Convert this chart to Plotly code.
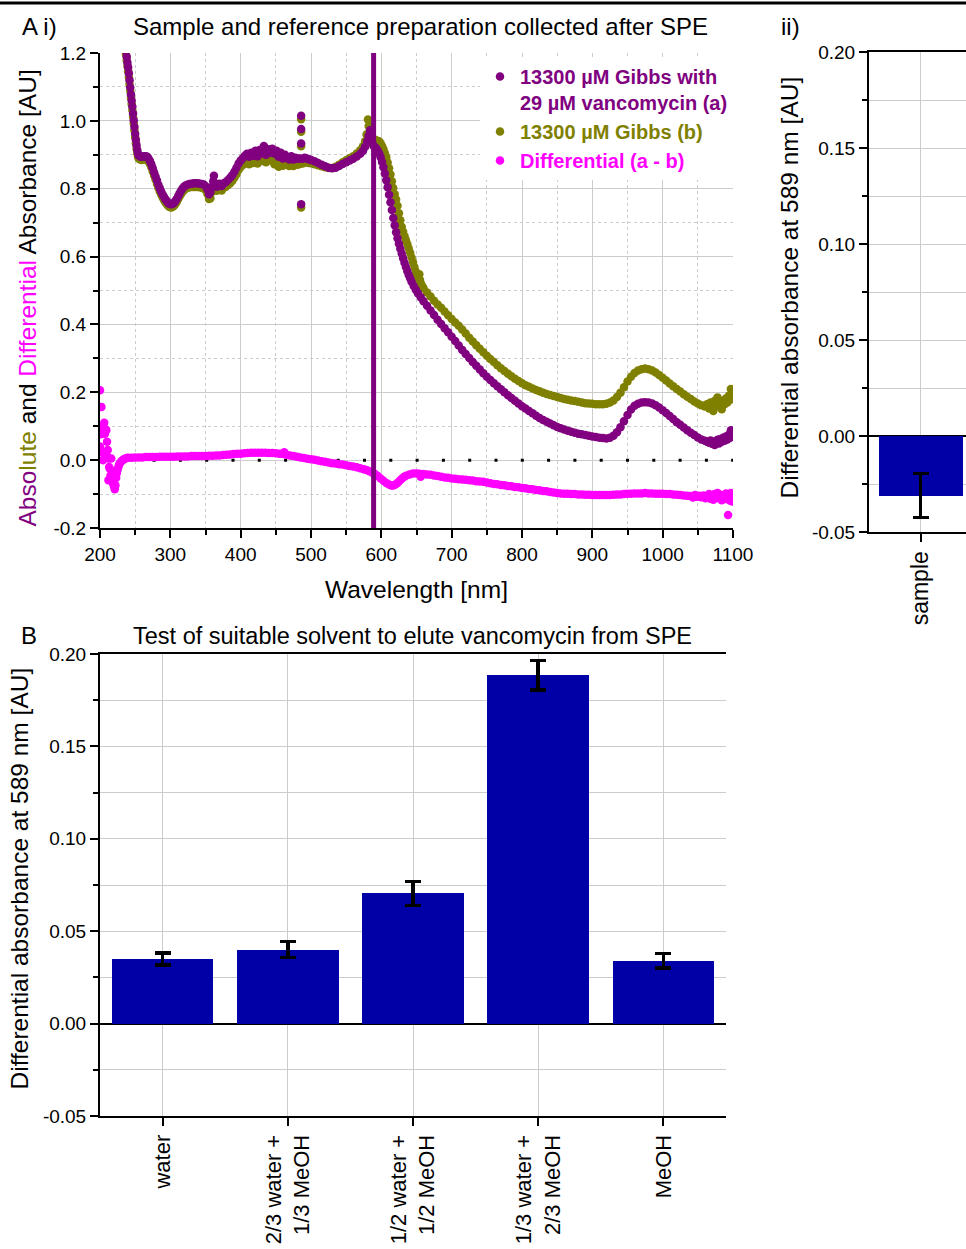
import plotly.graph_objects as go

# ---------------- data ----------------
# (a) 13300 uM Gibbs with 29 uM vancomycin
wl_a = [226, 230, 233, 235, 236, 237, 238, 239, 240, 241, 242, 243, 244, 245, 246, 247, 248, 249, 250,
        251, 252, 253, 254, 255, 257, 259, 261, 263, 265, 267, 269, 271, 273, 275, 277, 279, 281, 283,
        285, 287, 289, 291, 293, 295, 297, 299, 301, 303, 305, 307, 309, 311, 313, 315, 317, 319, 321,
        324, 327, 330, 333, 336, 339, 342, 345, 348, 351, 353, 355, 357, 359, 361, 362, 364, 366, 368,
        370, 373, 376, 379, 382, 385, 388, 391, 394, 397, 400, 403, 406, 409, 412, 415, 418, 421, 424,
        427, 430, 433, 436, 439, 442, 445, 448, 451, 454, 457, 460, 463, 466, 469, 472, 475, 478, 481,
        484, 486, 486, 486, 486, 488, 491, 494, 497, 500, 505, 510, 515, 520, 525, 530, 535, 540, 545,
        550, 555, 560, 565, 570, 574, 577, 580, 582, 584, 585, 587, 589, 591, 593, 595, 597, 599, 601,
        603, 605, 607, 609, 611, 613, 615, 617, 619, 621, 623, 625, 627, 629, 631, 633, 635, 637, 639,
        641, 643, 646, 649, 652, 656, 660, 665, 670, 675, 680, 685, 690, 695, 700, 705, 710, 715, 720,
        725, 730, 735, 740, 745, 750, 755, 760, 765, 770, 775, 780, 785, 790, 795, 800, 805, 810, 815,
        820, 825, 830, 835, 840, 845, 850, 855, 860, 865, 870, 875, 880, 885, 890, 895, 900, 905, 910,
        915, 920, 925, 930, 935, 940, 945, 950, 955, 960, 965, 970, 975, 980, 985, 990, 995, 1000, 1005,
        1010, 1015, 1020, 1025, 1030, 1035, 1040, 1045, 1050, 1055, 1060, 1063, 1066, 1068, 1070, 1072,
        1074, 1076, 1078, 1080, 1082, 1084, 1086, 1088, 1090, 1092, 1094, 1096, 1097, 1098, 1099, 1100]
abs_a = [1.55, 1.42, 1.32, 1.26, 1.23, 1.205, 1.188, 1.172, 1.158, 1.14, 1.12, 1.098, 1.078, 1.06, 1.042,
         1.022, 1.002, 0.982, 0.962, 0.944, 0.928, 0.914, 0.904, 0.898, 0.895, 0.894, 0.895, 0.896, 0.896,
         0.894, 0.889, 0.882, 0.872, 0.86, 0.848, 0.836, 0.824, 0.812, 0.801, 0.792, 0.783, 0.776, 0.769,
         0.763, 0.758, 0.755, 0.754, 0.755, 0.758, 0.763, 0.77, 0.778, 0.786, 0.793, 0.80, 0.805, 0.809,
         0.812, 0.814, 0.815, 0.816, 0.816, 0.816, 0.815, 0.814, 0.812, 0.806, 0.797, 0.784, 0.79, 0.805,
         0.822, 0.838, 0.812, 0.806, 0.81, 0.815, 0.808, 0.816, 0.82, 0.826, 0.832, 0.84, 0.85, 0.862,
         0.874, 0.883, 0.89, 0.897, 0.903, 0.894, 0.906, 0.897, 0.912, 0.896, 0.914, 0.904, 0.926, 0.90,
         0.916, 0.906, 0.918, 0.904, 0.912, 0.894, 0.906, 0.889, 0.90, 0.892, 0.886, 0.896, 0.886, 0.891,
         0.888, 0.889, 1.015, 0.976, 0.933, 0.754, 0.888, 0.891, 0.889, 0.887, 0.885, 0.881, 0.876, 0.871,
         0.866, 0.862, 0.86, 0.862, 0.867, 0.873, 0.878, 0.883, 0.888, 0.895, 0.903, 0.912, 0.924, 0.94,
         0.956, 0.972, 0.952, 0.935, 0.926, 0.922, 0.918, 0.912, 0.904, 0.893, 0.879, 0.863, 0.845, 0.825,
         0.804, 0.782, 0.76, 0.737, 0.714, 0.692, 0.672, 0.654, 0.638, 0.623, 0.609, 0.595, 0.582, 0.569,
         0.557, 0.546, 0.536, 0.526, 0.513, 0.502, 0.492, 0.48, 0.468, 0.455, 0.441, 0.428, 0.414, 0.401,
         0.389, 0.377, 0.364, 0.351, 0.338, 0.325, 0.313, 0.301, 0.289, 0.278, 0.267, 0.256, 0.246, 0.236,
         0.227, 0.218, 0.209, 0.20, 0.191, 0.183, 0.175, 0.167, 0.159, 0.152, 0.145, 0.138, 0.131, 0.124,
         0.118, 0.113, 0.108, 0.103, 0.098, 0.094, 0.09, 0.087, 0.084, 0.081, 0.078, 0.076, 0.074, 0.072,
         0.07, 0.068, 0.066, 0.065, 0.064, 0.066, 0.072, 0.082, 0.097, 0.115, 0.133, 0.149, 0.16, 0.166,
         0.17, 0.171, 0.17, 0.167, 0.162, 0.155, 0.147, 0.139, 0.13, 0.121, 0.112, 0.104, 0.096, 0.088,
         0.081, 0.074, 0.067, 0.061, 0.057, 0.054, 0.051, 0.058, 0.048, 0.055, 0.045, 0.052, 0.06, 0.049,
         0.062, 0.054, 0.066, 0.057, 0.07, 0.061, 0.075, 0.066, 0.088, 0.072, 0.08, 0.086]

# (b) 13300 uM Gibbs
wl_b = [226, 230, 233, 235, 236, 237, 238, 239, 240, 241, 242, 243, 244, 245, 246, 247, 248, 249, 250,
        251, 252, 253, 254, 255, 257, 259, 261, 263, 265, 267, 269, 271, 273, 275, 277, 279, 281, 283,
        285, 287, 289, 291, 293, 295, 297, 299, 301, 303, 305, 307, 309, 311, 313, 315, 317, 319, 321,
        324, 327, 330, 333, 336, 339, 342, 345, 348, 351, 353, 355, 357, 359, 361, 362, 364, 366, 368,
        370, 373, 376, 379, 382, 385, 388, 391, 394, 397, 400, 403, 406, 409, 412, 415, 418, 421, 424,
        427, 430, 433, 436, 439, 442, 445, 448, 451, 454, 457, 460, 463, 466, 469, 472, 475, 478, 481,
        484, 486, 486, 486, 486, 488, 491, 494, 497, 500, 505, 510, 515, 520, 525, 530, 535, 540, 545,
        550, 555, 560, 565, 570, 574, 577, 579, 581, 582, 583, 585, 587, 589, 591, 593, 595, 597, 599,
        601, 603, 605, 607, 609, 611, 613, 615, 617, 619, 621, 623, 625, 627, 629, 631, 633, 635, 637,
        639, 641, 643, 645, 647, 649, 651, 653, 654, 655, 656, 658, 660, 665, 670, 675, 680, 685, 690,
        695, 700, 705, 710, 715, 720, 725, 730, 735, 740, 745, 750, 755, 760, 765, 770, 775, 780, 785,
        790, 795, 800, 805, 810, 815, 820, 825, 830, 835, 840, 845, 850, 855, 860, 865, 870, 875, 880,
        885, 890, 895, 900, 905, 910, 915, 920, 925, 930, 935, 940, 945, 950, 955, 960, 965, 970, 975,
        980, 985, 990, 995, 1000, 1005, 1010, 1015, 1020, 1025, 1030, 1035, 1040, 1045, 1050, 1055, 1060,
        1063, 1066, 1068, 1070, 1072, 1074, 1076, 1078, 1080, 1082, 1084, 1086, 1088, 1090, 1092, 1094,
        1096, 1097, 1098, 1099, 1100]
abs_b = [1.54, 1.41, 1.31, 1.25, 1.22, 1.195, 1.178, 1.162, 1.147, 1.129, 1.109, 1.088, 1.068, 1.05, 1.032,
         1.012, 0.992, 0.972, 0.952, 0.934, 0.918, 0.905, 0.895, 0.889, 0.886, 0.885, 0.886, 0.887, 0.887,
         0.885, 0.88, 0.873, 0.863, 0.851, 0.839, 0.827, 0.815, 0.803, 0.792, 0.783, 0.774, 0.767, 0.76,
         0.754, 0.749, 0.746, 0.745, 0.746, 0.749, 0.754, 0.761, 0.769, 0.777, 0.784, 0.79, 0.795, 0.799,
         0.802, 0.804, 0.805, 0.805, 0.805, 0.805, 0.804, 0.803, 0.80, 0.794, 0.784, 0.77, 0.772, 0.79,
         0.806, 0.82, 0.798, 0.794, 0.797, 0.802, 0.795, 0.803, 0.806, 0.811, 0.816, 0.823, 0.832, 0.843,
         0.855, 0.864, 0.87, 0.876, 0.881, 0.872, 0.884, 0.876, 0.889, 0.874, 0.89, 0.882, 0.90, 0.878,
         0.893, 0.884, 0.895, 0.872, 0.889, 0.865, 0.884, 0.868, 0.878, 0.872, 0.867, 0.877, 0.867, 0.873,
         0.871, 0.873, 1.005, 0.968, 0.925, 0.745, 0.874, 0.878, 0.877, 0.876, 0.875, 0.872, 0.869, 0.866,
         0.863, 0.861, 0.861, 0.865, 0.871, 0.878, 0.884, 0.89, 0.896, 0.904, 0.913, 0.925, 0.94, 0.96,
         1.004, 0.985, 0.968, 0.955, 0.95, 0.946, 0.944, 0.942, 0.941, 0.939, 0.934, 0.926, 0.916, 0.905,
         0.893, 0.877, 0.86, 0.842, 0.822, 0.802, 0.784, 0.768, 0.75, 0.728, 0.707, 0.688, 0.673, 0.66,
         0.648, 0.636, 0.624, 0.611, 0.597, 0.583, 0.569, 0.556, 0.545, 0.534, 0.548, 0.531, 0.522, 0.514,
         0.507, 0.494, 0.482, 0.47, 0.459, 0.449, 0.438, 0.427, 0.416, 0.406, 0.396, 0.385, 0.373, 0.361,
         0.35, 0.339, 0.328, 0.318, 0.308, 0.298, 0.289, 0.28, 0.271, 0.263, 0.255, 0.247, 0.24, 0.233,
         0.227, 0.221, 0.216, 0.211, 0.207, 0.203, 0.199, 0.195, 0.192, 0.189, 0.186, 0.183, 0.18, 0.178,
         0.176, 0.174, 0.172, 0.17, 0.168, 0.167, 0.166, 0.165, 0.165, 0.165, 0.166, 0.17, 0.176, 0.186,
         0.199, 0.215, 0.232, 0.246, 0.257, 0.264, 0.268, 0.27, 0.268, 0.264, 0.258, 0.251, 0.243, 0.235,
         0.226, 0.218, 0.21, 0.202, 0.194, 0.187, 0.18, 0.173, 0.167, 0.162, 0.158, 0.165, 0.152, 0.17,
         0.158, 0.145, 0.175, 0.16, 0.185, 0.158, 0.17, 0.15, 0.175, 0.165, 0.182, 0.17, 0.19, 0.178, 0.21,
         0.195, 0.185, 0.20]

# differential (a - b)
wl_d = [200, 200, 200, 201, 201, 202, 202, 203, 204, 205, 205, 206, 207, 208, 209, 210, 210, 211, 212,
        212, 213, 214, 215, 216, 216, 217, 218, 219, 220, 221, 222, 223, 224, 225, 226, 227, 228, 230,
        232, 234, 236, 238, 240, 245, 250, 255, 260, 265, 270, 275, 280, 285, 290, 295, 300, 305, 310,
        315, 320, 325, 330, 335, 340, 345, 350, 355, 360, 365, 370, 375, 380, 385, 390, 395, 400, 405,
        410, 415, 420, 425, 430, 435, 440, 445, 450, 455, 460, 462, 465, 470, 475, 480, 485, 490, 495,
        500, 505, 510, 515, 520, 525, 530, 535, 540, 545, 550, 555, 560, 565, 570, 575, 579, 583, 587,
        591, 595, 599, 603, 607, 611, 614, 617, 620, 623, 626, 629, 632, 635, 640, 645, 650, 654, 656,
        658, 660, 665, 670, 675, 680, 685, 690, 695, 700, 705, 710, 715, 720, 725, 730, 735, 740, 745,
        750, 755, 760, 765, 770, 775, 780, 785, 790, 795, 800, 805, 810, 815, 820, 825, 830, 835, 840,
        845, 850, 855, 860, 865, 870, 875, 880, 885, 890, 895, 900, 905, 910, 915, 920, 925, 930, 935,
        940, 945, 950, 955, 960, 965, 970, 975, 980, 985, 990, 995, 1000, 1005, 1010, 1015, 1020, 1025,
        1030, 1035, 1040, 1043, 1046, 1049, 1052, 1055, 1058, 1061, 1064, 1066, 1068, 1070, 1072, 1074,
        1076, 1078, 1080, 1082, 1084, 1086, 1088, 1090, 1092, 1093, 1094, 1096, 1097, 1098, 1099, 1100]
diff_d = [0.206, 0.082, 0.04, 0.10, 0.076, 0.157, 0.025, 0.088, 0.0, 0.085, 0.02, 0.11, 0.078, 0.09, 0.088,
          0.054, 0.012, 0.03, -0.059, 0.005, -0.02, -0.025, -0.045, -0.059, 0.005, -0.04, -0.066, -0.07,
          -0.078, -0.086, -0.074, -0.052, -0.038, -0.028, -0.02, -0.014, -0.01, -0.004, 0.0, 0.003, 0.005,
          0.006, 0.007, 0.007, 0.008, 0.008, 0.008, 0.009, 0.009, 0.009, 0.009, 0.01, 0.01, 0.01, 0.01,
          0.01, 0.011, 0.011, 0.011, 0.011, 0.012, 0.012, 0.012, 0.012, 0.012, 0.013, 0.013, 0.014, 0.014,
          0.015, 0.016, 0.017, 0.018, 0.019, 0.019, 0.02, 0.021, 0.022, 0.022, 0.022, 0.022, 0.022, 0.021,
          0.021, 0.02, 0.019, 0.018, 0.023, 0.016, 0.014, 0.012, 0.01, 0.008, 0.006, 0.004, 0.003, 0.001,
          -0.001, -0.003, -0.005, -0.007, -0.009, -0.01, -0.012, -0.013, -0.015, -0.017, -0.019, -0.021,
          -0.024, -0.027, -0.029, -0.033, -0.037, -0.041, -0.047, -0.054, -0.061, -0.067, -0.072, -0.075,
          -0.075, -0.072, -0.067, -0.061, -0.055, -0.05, -0.046, -0.042, -0.039, -0.039, -0.04, -0.049,
          -0.042, -0.041, -0.042, -0.043, -0.045, -0.047, -0.049, -0.051, -0.052, -0.054, -0.055, -0.056,
          -0.057, -0.058, -0.059, -0.06, -0.062, -0.063, -0.064, -0.066, -0.068, -0.07, -0.071, -0.073,
          -0.074, -0.076, -0.077, -0.079, -0.08, -0.082, -0.083, -0.085, -0.086, -0.088, -0.089, -0.091,
          -0.092, -0.094, -0.095, -0.097, -0.098, -0.099, -0.099, -0.1, -0.1, -0.101, -0.101, -0.102,
          -0.102, -0.103, -0.103, -0.103, -0.103, -0.103, -0.103, -0.102, -0.101, -0.101, -0.1, -0.099,
          -0.099, -0.098, -0.098, -0.098, -0.097, -0.098, -0.098, -0.099, -0.099, -0.099, -0.1, -0.1,
          -0.101, -0.102, -0.103, -0.104, -0.105, -0.106, -0.11, -0.103, -0.108, -0.105, -0.109, -0.104,
          -0.112, -0.106, -0.1, -0.114, -0.104, -0.117, -0.1, -0.112, -0.097, -0.11, -0.102, -0.118,
          -0.105, -0.113, -0.098, -0.115, -0.162, -0.104, -0.12, -0.097, -0.11, -0.122, -0.1]

# wavelength used for the single-wavelength read-out
marker_wl = 589

# ii) differential absorbance at 589 nm, sample
sample_cat = ["sample"]
sample_val = [-0.031]
sample_err = [0.0115]

# B) solvent test
solvents = ["water", "2/3 water +<br>1/3 MeOH", "1/2 water +<br>1/2 MeOH",
            "1/3 water +<br>2/3 MeOH", "MeOH"]
solvent_val = [0.035, 0.040, 0.0705, 0.1885, 0.034]
solvent_err = [0.0032, 0.0043, 0.0065, 0.0081, 0.0040]

# tick labels (plain hyphen for negatives)
spec_ticks = [-0.2, 0.0, 0.2, 0.4, 0.6, 0.8, 1.0, 1.2]
spec_ticktext = ["-0.2", "0.0", "0.2", "0.4", "0.6", "0.8", "1.0", "1.2"]
spec_minor = [-0.1, 0.1, 0.3, 0.5, 0.7, 0.9, 1.1]
bar_ticks = [-0.05, 0.0, 0.05, 0.10, 0.15, 0.20]
bar_ticktext = ["-0.05", "0.00", "0.05", "0.10", "0.15", "0.20"]
bar_minor = [-0.025, 0.025, 0.075, 0.125, 0.175]

# ---------------- styling ----------------
FONT = "Arial, 'Liberation Sans', sans-serif"
PURPLE = "#800080"
OLIVE = "#808000"
MAGENTA = "#FF00FF"
BLUE = "#0000A6"
GRID = "#cccccc"
W, H = 966, 1249
MS = 8.5


def px_x(p):
    return p / W


def px_y(p):
    return (H - p) / H


fig = go.Figure()

# spectra (olive drawn first so the purple series sits on top)
fig.add_trace(go.Scatter(
    x=wl_b, y=abs_b, mode="markers", xaxis="x", yaxis="y",
    marker=dict(color=OLIVE, size=MS, line=dict(width=0)),
    name="<span style='color:#808000'><b>13300 µM Gibbs (b)</b></span>", legendrank=2))
fig.add_trace(go.Scatter(
    x=wl_a, y=abs_a, mode="markers", xaxis="x", yaxis="y",
    marker=dict(color=PURPLE, size=MS, line=dict(width=0)),
    name="<b>13300 µM Gibbs with</b><br><b>29 µM vancomycin (a)</b>", legendrank=1))
fig.add_trace(go.Scatter(
    x=wl_d, y=diff_d, mode="markers", xaxis="x", yaxis="y",
    marker=dict(color=MAGENTA, size=MS, line=dict(width=0)),
    name="<span style='color:#FF00FF'><b>Differential (a - b)</b></span>", legendrank=3))

# ii) sample bar
fig.add_trace(go.Bar(
    x=[0], y=sample_val, width=0.81, xaxis="x3", yaxis="y3", showlegend=False,
    marker=dict(color=BLUE, line=dict(width=0)),
    error_y=dict(type="data", array=sample_err, color="black", thickness=3, width=8)))

# B) solvent bars
fig.add_trace(go.Bar(
    x=list(range(len(solvents))), y=solvent_val, width=0.81, xaxis="x5", yaxis="y5",
    showlegend=False, marker=dict(color=BLUE, line=dict(width=0)),
    error_y=dict(type="data", array=solvent_err, color="black", thickness=3.5, width=8)))

tick_font = dict(family=FONT, size=19, color="black")
bar_tick_font = dict(family=FONT, size=19, color="black")
title_font = dict(family=FONT, size=24.5, color="black")

common_line = dict(showline=True, linecolor="black", linewidth=2, zeroline=False)
tick_style = dict(ticklen=8, tickwidth=2, tickcolor="black")
minor_out = dict(ticks="outside", ticklen=5, tickwidth=2, tickcolor="black")
minor_in = dict(ticks="inside", ticklen=5, tickwidth=2, tickcolor="black")

fig.update_layout(
    width=W, height=H, margin=dict(l=0, r=0, t=0, b=0),
    paper_bgcolor="white", plot_bgcolor="white",
    font=dict(family=FONT, color="black"),
    bargap=0,
    # ---- A i) spectra ----
    xaxis=dict(domain=[px_x(100), px_x(733)], anchor="y", range=[200, 1100],
               tick0=200, dtick=100, ticks="outside", **tick_style,
               tickfont=tick_font, showgrid=True, gridcolor=GRID, gridwidth=1,
               minor=dict(dtick=50, showgrid=True, gridcolor=GRID, griddash="dot", **minor_out),
               title=dict(text="Wavelength [nm]", font=title_font, standoff=17),
               automargin=False, **common_line),
    xaxis2=dict(overlaying="x", anchor="y", side="top", range=[200, 1100],
                tick0=200, dtick=100, ticks="inside", **tick_style,
                showticklabels=False, showgrid=False,
                minor=dict(dtick=50, **minor_in),
                automargin=False, **common_line),
    yaxis=dict(domain=[px_y(528), px_y(53)], anchor="x", range=[-0.2, 1.2],
               tickmode="array", tickvals=spec_ticks, ticktext=spec_ticktext,
               ticks="outside", **tick_style, tickfont=tick_font,
               showgrid=True, gridcolor=GRID, gridwidth=1,
               minor=dict(tickmode="array", tickvals=spec_minor, showgrid=True, gridcolor=GRID,
                          griddash="dot", **minor_out),
               automargin=False, **common_line),
    yaxis2=dict(overlaying="y", anchor="x", side="right", range=[-0.2, 1.2],
                tickmode="array", tickvals=spec_ticks, ticks="inside", **tick_style,
                showticklabels=False, showgrid=False,
                minor=dict(tickmode="array", tickvals=spec_minor, **minor_in),
                automargin=False, **common_line),
    # ---- ii) sample ----
    xaxis3=dict(domain=[px_x(869), 1.0], anchor="y3", range=[-0.5, 0.433],
                tickvals=[0], ticktext=sample_cat, tickangle=-90, ticks="outside", **tick_style,
                tickfont=dict(family=FONT, size=23, color="black"),
                showgrid=True, gridcolor=GRID, mirror=True, automargin=False, **common_line),
    yaxis3=dict(domain=[px_y(532), px_y(52)], anchor="x3", range=[-0.05, 0.2],
                tickmode="array", tickvals=bar_ticks, ticktext=bar_ticktext,
                ticks="outside", **tick_style, tickfont=bar_tick_font,
                showgrid=True, gridcolor=GRID,
                minor=dict(tickmode="array", tickvals=bar_minor, showgrid=True, gridcolor=GRID,
                           **minor_out),
                showline=True, linecolor="black", linewidth=2,
                zeroline=True, zerolinecolor="black", zerolinewidth=2, automargin=False),
    yaxis4=dict(overlaying="y3", anchor="x3", side="right", range=[-0.05, 0.2],
                tickmode="array", tickvals=bar_ticks, ticks="inside", ticklen=5, tickwidth=2,
                tickcolor="black", showticklabels=False, showgrid=False, showline=False,
                zeroline=False, automargin=False),
    # ---- B) solvents ----
    xaxis5=dict(domain=[px_x(100), px_x(726)], anchor="y5", range=[-0.5, 4.5],
                tickvals=list(range(len(solvents))), ticktext=solvents, tickangle=-90,
                ticks="outside", **tick_style,
                tickfont=dict(family=FONT, size=22, color="black"),
                showgrid=True, gridcolor=GRID, mirror=True, automargin=False, **common_line),
    yaxis5=dict(domain=[px_y(1116), px_y(654)], anchor="x5", range=[-0.05, 0.2],
                tickmode="array", tickvals=bar_ticks, ticktext=bar_ticktext,
                ticks="outside", **tick_style, tickfont=bar_tick_font,
                showgrid=True, gridcolor=GRID,
                minor=dict(tickmode="array", tickvals=bar_minor, showgrid=True, gridcolor=GRID,
                           **minor_out),
                showline=True, linecolor="black", linewidth=2,
                zeroline=True, zerolinecolor="black", zerolinewidth=2, automargin=False),
    yaxis6=dict(overlaying="y5", anchor="x5", side="right", range=[-0.05, 0.2],
                tickmode="array", tickvals=bar_ticks, ticks="inside", **tick_style,
                showticklabels=False, showgrid=False,
                minor=dict(tickmode="array", tickvals=bar_minor, **minor_in),
                automargin=False, **common_line),
    legend=dict(x=px_x(480), y=px_y(57), xanchor="left", yanchor="top",
                bgcolor="white", borderwidth=0, valign="top", traceorder="normal",
                font=dict(family=FONT, size=20, color=PURPLE), tracegroupgap=0),
)

# panel titles, panel letters and y-axis titles
y_title_a = ("<span style='color:#800080'>Abso</span><span style='color:#808000'>lute</span> and "
             "<span style='color:#FF00FF'>Differential</span> Absorbance [AU]")
y_title_bar = "Differential absorbance at 589 nm [AU]"
annots = [
    dict(x=px_x(420), y=px_y(27), text="Sample and reference preparation collected after SPE",
         xanchor="center", size=24),
    dict(x=px_x(20), y=px_y(27), text="A i)", xanchor="left", size=24),
    dict(x=px_x(779), y=px_y(27), text="ii)", xanchor="left", size=24),
    dict(x=px_x(412), y=px_y(636), text="Test of suitable solvent to elute vancomycin from SPE",
         xanchor="center", size=23.5),
    dict(x=px_x(19), y=px_y(636), text="B", xanchor="left", size=24),
    dict(x=px_x(27), y=px_y(298.5), text=y_title_a, xanchor="center", textangle=-90, size=24.5),
    dict(x=px_x(789), y=px_y(287.5), text=y_title_bar, xanchor="center", textangle=-90, size=24.5),
    dict(x=px_x(19), y=px_y(878.5), text=y_title_bar, xanchor="center", textangle=-90, size=24.5),
]
for a in annots:
    size = a.pop("size")
    fig.add_annotation(xref="paper", yref="paper", yanchor="middle", showarrow=False,
                       font=dict(family=FONT, size=size, color="black"), **a)

# frame line along the top edge
fig.add_shape(type="line", xref="paper", yref="paper", x0=0, x1=1, y0=px_y(3), y1=px_y(3),
              line=dict(color="black", width=3))
# dotted zero reference in the spectrum panel
fig.add_shape(type="line", xref="x", yref="y", x0=200, x1=1100, y0=0, y1=0,
              line=dict(color="black", width=3, dash="3px,23.3px"), layer="between")
# read-out wavelength marker
fig.add_shape(type="line", xref="x", yref="y domain", x0=marker_wl, x1=marker_wl, y0=0, y1=1,
              line=dict(color=PURPLE, width=5), layer="above")

fig.write_html("out.html")
